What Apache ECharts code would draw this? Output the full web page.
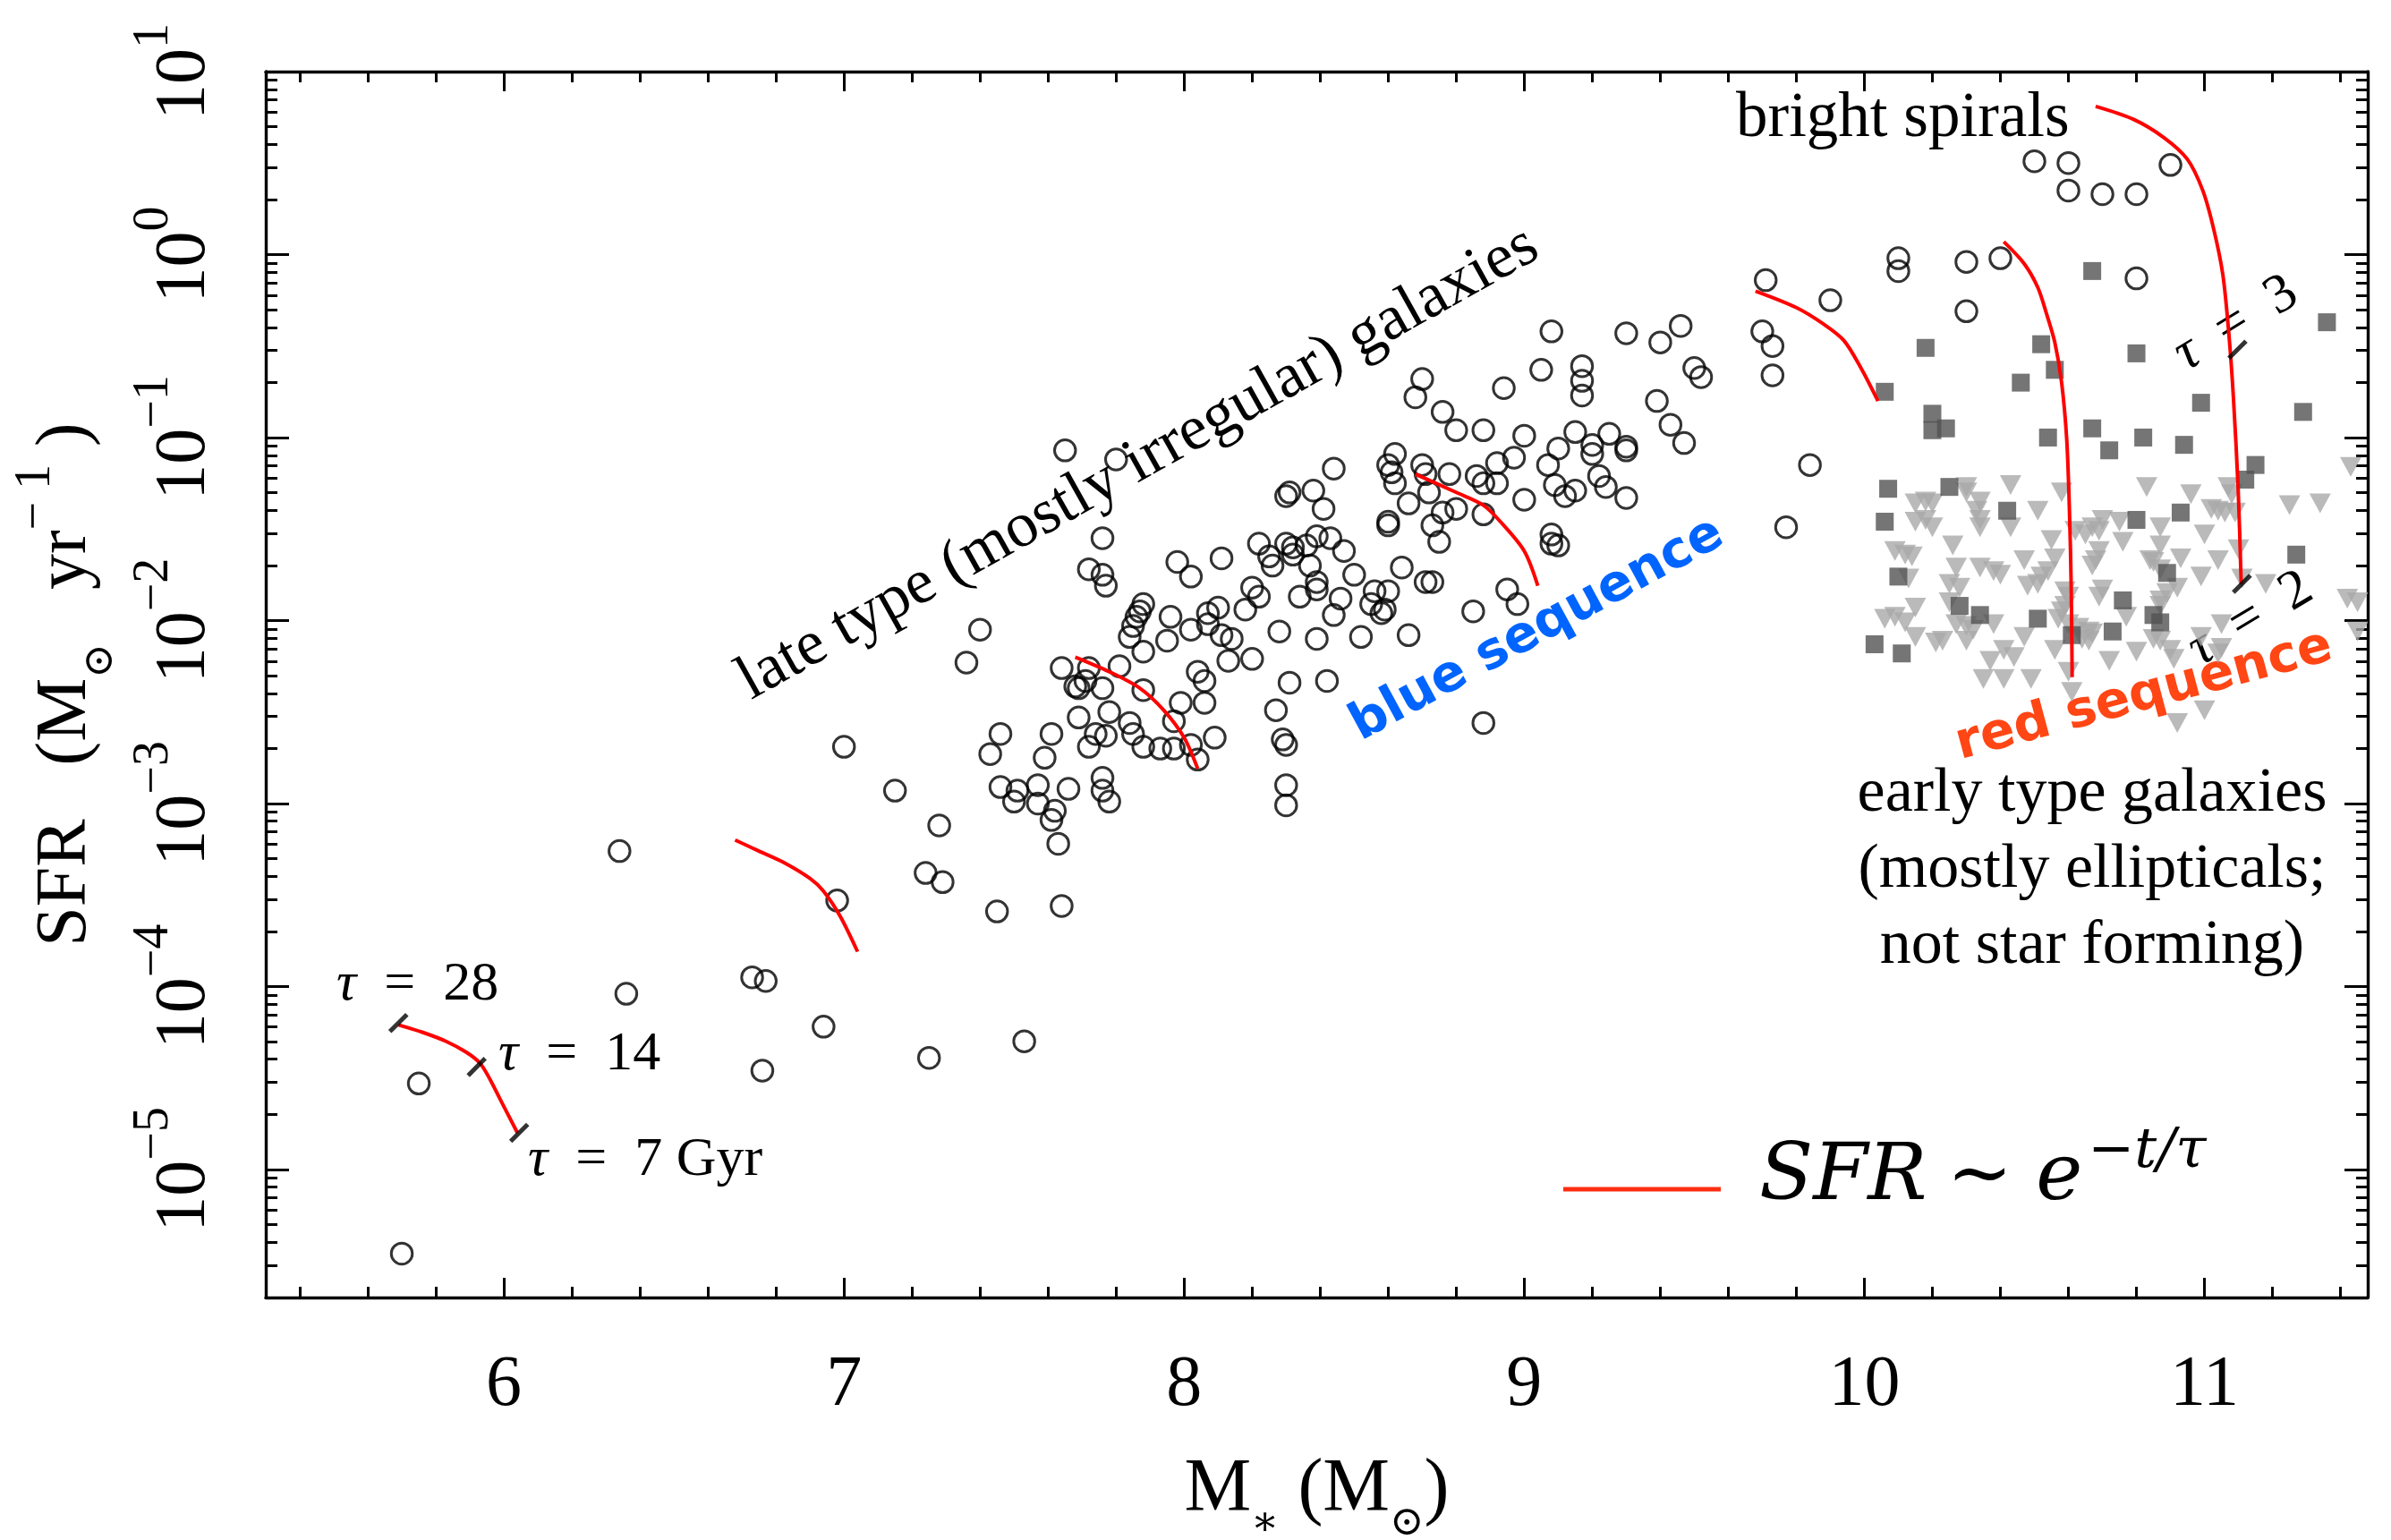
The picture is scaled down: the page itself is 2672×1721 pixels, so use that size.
<!DOCTYPE html>
<html><head><meta charset="utf-8">
<script src="https://cdn.jsdelivr.net/npm/echarts@6/dist/echarts.min.js"></script>
<style>html,body{margin:0;padding:0;background:#fff}#c{width:2672px;height:1721px}</style>
</head><body><div id="c"></div>
<script>
// ---------- axis ticks ----------
const xMajorTicks = [6, 7, 8, 9, 10, 11];
const xMinorTicks = [5.4,5.6,5.8,6.2,6.4,6.6,6.8,7.2,7.4,7.6,7.8,8.2,8.4,8.6,8.8,9.2,9.4,9.6,9.8,10.2,10.4,10.6,10.8,11.2,11.4];
const yMajorTicks = [-5, -4, -3, -2, -1, 0, 1];   // log10 SFR, labelled 10^n
const yMinorMantissas = [2, 3, 4, 5, 6, 7, 8, 9];
const xRange = [5.3, 11.48];
const yRange = [-5.7, 1];

// ---------- data: [log10 M*, log10 SFR] ----------
const lateTypeGalaxies = [
 [5.70,-5.46],[5.75,-4.53],[6.34,-3.26],[6.36,-4.04],[6.73,-3.95],[6.77,-3.97],[6.76,-4.46],[6.94,-4.22],
 [6.98,-3.53],[7.00,-2.69],[7.15,-2.93],[7.28,-3.12],[7.24,-3.38],[7.29,-3.43],[7.25,-4.39],[7.53,-4.30],
 [7.43,-2.73],[7.59,-2.75],[7.72,-2.69],[7.88,-2.69],[7.93,-2.70],[7.97,-2.70],[8.04,-2.76],[7.46,-2.91],
 [7.51,-2.93],[7.50,-2.99],[7.57,-2.90],[7.57,-3.00],[7.62,-3.04],[7.61,-3.09],[7.66,-2.92],[7.63,-3.22],
 [7.76,-2.86],[7.76,-2.93],[7.78,-2.99],[7.45,-3.59],[7.64,-3.56],[8.30,-2.90],[8.30,-3.01],
 [7.65,-1.07],[7.80,-1.12],[7.76,-1.55],[7.72,-1.72],[7.76,-1.75],[7.77,-1.81],[7.40,-2.05],[7.36,-2.23],
 [7.88,-1.91],[7.87,-1.95],[7.86,-1.98],[7.85,-2.03],[7.84,-2.09],[7.88,-2.17],[7.96,-1.98],[7.95,-2.11],
 [8.02,-2.05],[7.98,-1.68],[8.02,-1.76],[8.11,-1.66],[8.07,-1.96],[8.10,-1.93],[8.07,-2.02],[8.11,-2.08],
 [8.14,-2.10],[8.13,-2.22],[8.20,-2.21],[8.18,-1.94],[8.20,-1.82],[8.22,-1.87],[8.22,-1.58],[8.25,-1.65],
 [8.26,-1.70],[8.30,-1.58],[8.32,-1.60],[8.32,-1.64],[8.37,-1.70],[8.36,-1.59],[8.39,-1.54],[8.43,-1.55],
 [8.47,-1.62],[8.39,-1.79],[8.39,-1.83],[8.34,-1.87],[8.46,-1.88],[8.44,-1.97],[8.50,-1.75],[8.28,-2.06],
 [8.39,-2.10],[8.52,-2.09],[8.31,-2.34],[8.42,-2.33],[8.27,-2.49],[8.29,-2.65],[8.30,-2.68],[8.44,-1.17],
 [8.31,-1.30],[8.30,-1.32],[8.38,-1.29],[8.41,-1.39],[8.62,-1.09],[8.60,-1.15],[8.61,-1.19],[8.62,-1.25],
 [8.60,-1.46],[8.60,-1.48],[8.64,-1.71],[8.56,-1.84],[8.60,-1.84],[8.55,-1.91],[8.59,-1.94],[8.58,-1.96],
 [8.66,-1.36],[8.66,-2.08],
 [7.64,-2.26],[7.72,-2.26],[7.81,-2.25],[7.68,-2.36],[7.69,-2.37],[7.71,-2.33],[7.76,-2.37],[7.88,-2.38],
 [7.99,-2.45],[8.06,-2.45],[8.04,-2.28],[8.06,-2.33],[7.69,-2.53],[7.78,-2.50],[7.84,-2.56],[7.97,-2.55],
 [7.46,-2.62],[7.61,-2.62],[7.74,-2.62],[7.77,-2.63],[7.85,-2.62],[8.09,-2.64],[8.02,-2.68],
 [9.08,-0.42],[9.30,-0.43],[9.46,-0.39],[9.40,-0.48],[9.90,-0.25],[9.71,-0.14],[9.70,-0.42],[9.73,-0.50],
 [9.73,-0.66],[9.50,-0.62],[9.52,-0.67],[9.05,-0.63],[9.17,-0.61],[9.17,-0.69],[9.17,-0.77],[8.70,-0.68],
 [8.68,-0.78],[8.94,-0.73],[8.76,-0.86],[8.80,-0.96],[8.88,-0.96],[9.00,-0.99],[9.39,-0.80],[9.43,-0.93],
 [9.47,-1.03],[9.15,-0.97],[9.25,-0.98],[9.10,-1.06],[9.20,-1.04],[9.20,-1.09],[9.30,-1.05],[9.30,-1.07],
 [9.07,-1.15],[8.97,-1.11],[8.92,-1.14],[8.86,-1.21],[8.88,-1.25],[8.92,-1.25],[8.78,-1.20],[8.70,-1.15],
 [8.71,-1.20],[8.72,-1.30],[8.80,-1.39],[8.76,-1.41],[8.73,-1.48],[8.75,-1.57],[8.88,-1.42],[9.00,-1.34],
 [9.09,-1.26],[9.12,-1.32],[9.15,-1.29],[9.22,-1.21],[9.24,-1.27],[9.30,-1.33],[9.08,-1.53],[9.08,-1.58],
 [9.10,-1.59],[8.71,-1.79],[8.73,-1.79],[8.95,-1.83],[8.98,-1.91],[8.85,-1.95],[9.77,-1.49],[9.84,-1.15],
 [8.88,-2.56],
 [10.50,0.51],[10.60,0.50],[10.60,0.35],[10.70,0.33],[10.80,0.33],[10.90,0.49],[10.10,-0.02],[10.10,-0.09],
 [10.30,-0.04],[10.40,-0.02],[10.30,-0.31],[10.80,-0.13]
];
const earlyTypeSquares = [
 [10.67,-0.09],[10.18,-0.51],[10.52,-0.49],[10.80,-0.54],[11.36,-0.37],[10.06,-0.75],[10.46,-0.70],[10.56,-0.63],
 [10.20,-0.87],[10.20,-0.96],[10.24,-0.95],[10.54,-1.00],[10.67,-0.95],[10.72,-1.07],[10.82,-1.00],[10.94,-1.04],
 [10.99,-0.81],[11.29,-0.86],[11.15,-1.15],[11.12,-1.23],[10.07,-1.28],[10.25,-1.27],[10.06,-1.46],[10.42,-1.40],
 [10.80,-1.45],[10.93,-1.41],[11.27,-1.64],[10.10,-1.76],[10.89,-1.74],[10.28,-1.92],[10.34,-1.97],[10.51,-1.99],
 [10.76,-1.89],[10.85,-1.97],[10.87,-2.01],[10.61,-2.08],[10.73,-2.06],[10.03,-2.13],[10.11,-2.18]
];
const earlyTypeTriangles = [
 [10.30,-1.27],[10.30,-1.30],[10.43,-1.26],[10.58,-1.30],[10.83,-1.27],[10.96,-1.31],[11.07,-1.27],[11.08,-1.31],
 [11.25,-1.37],[11.34,-1.36],[10.15,-1.36],[10.18,-1.35],[10.20,-1.36],[10.34,-1.35],[10.33,-1.40],[10.51,-1.40],
 [11.02,-1.39],[11.04,-1.40],[11.06,-1.41],[11.09,-1.41],[10.15,-1.46],[10.18,-1.45],[10.20,-1.49],[10.34,-1.45],
 [10.34,-1.49],[10.43,-1.49],[10.70,-1.45],[10.75,-1.46],[10.62,-1.51],[10.65,-1.53],[10.67,-1.49],[10.69,-1.51],
 [10.87,-1.49],[11.00,-1.53],[10.55,-1.56],[10.76,-1.57],[10.26,-1.59],[10.87,-1.59],[11.10,-1.61],[10.09,-1.62],
 [10.12,-1.64],[10.14,-1.65],[10.47,-1.67],[10.56,-1.66],[10.69,-1.62],[10.68,-1.67],[10.84,-1.67],[10.85,-1.68],
 [10.93,-1.66],[11.04,-1.67],[10.27,-1.71],[10.34,-1.71],[10.38,-1.73],[10.40,-1.75],[10.54,-1.73],[10.52,-1.76],
 [10.67,-1.70],[10.13,-1.77],[10.87,-1.72],[10.99,-1.76],[11.11,-1.77],[11.18,-1.80],[10.25,-1.80],[10.28,-1.82],
 [10.48,-1.81],[10.51,-1.80],[10.59,-1.84],[10.60,-1.87],[10.70,-1.83],[10.69,-1.87],[10.92,-1.82],[10.89,-1.85],
 [10.15,-1.93],[10.25,-1.90],[10.59,-1.92],[10.58,-1.95],[10.87,-1.89],[10.87,-1.92],[10.77,-1.98],[10.06,-1.99],
 [10.09,-1.98],[10.12,-2.01],[10.27,-2.02],[10.30,-2.03],[10.32,-2.05],[10.38,-2.02],[10.57,-1.99],[10.60,-2.02],
 [11.05,-2.02],[10.63,-2.04],[10.66,-2.06],[10.67,-2.07],[10.15,-2.09],[10.21,-2.12],[10.23,-2.11],[10.30,-2.11],
 [10.47,-2.09],[10.85,-2.10],[10.87,-2.11],[10.64,-2.10],[10.66,-2.11],[10.99,-2.09],[11.05,-2.15],[10.41,-2.16],
 [10.44,-2.20],[10.56,-2.16],[10.80,-2.17],[10.90,-2.16],[10.91,-2.21],[10.37,-2.22],[10.72,-2.22],[11.04,-2.18],
 [10.35,-2.32],[10.41,-2.32],[10.49,-2.32],[10.60,-2.28],[10.61,-2.39],[11.00,-2.49],[10.92,-2.56],
 [11.43,-1.16],[11.42,-1.88],[11.45,-1.90],[11.45,-2.06]
];
// exponentially declining SFR tracks
const track1 = [[5.69,-4.21],[5.76,-4.25],[5.83,-4.30],[5.89,-4.36],[5.93,-4.42],[5.96,-4.51],[5.99,-4.62],[6.04,-4.80]];
const track2 = [[6.68,-3.20],[6.75,-3.26],[6.82,-3.32],[6.90,-3.41],[6.94,-3.48],[6.99,-3.62],[7.04,-3.81]];
const track3 = [[7.68,-2.20],[7.78,-2.28],[7.87,-2.37],[7.94,-2.49],[8.00,-2.64],[8.04,-2.81]];
const track4 = [[8.68,-1.20],[8.80,-1.30],[8.88,-1.37],[8.93,-1.46],[9.00,-1.62],[9.04,-1.81]];
const track5 = [[9.68,-0.20],[9.80,-0.29],[9.88,-0.38],[9.94,-0.47],[9.99,-0.62],[10.04,-0.80]];
const track6 = [[10.41,0.07],[10.47,-0.05],[10.51,-0.18],[10.535,-0.32],[10.56,-0.48],[10.58,-0.70],[10.595,-1.01],[10.603,-1.40],[10.608,-1.80],[10.611,-2.31]];
const track7 = [[10.68,0.81],[10.79,0.74],[10.88,0.64],[10.95,0.52],[10.995,0.35],[11.027,0.14],[11.054,-0.11],[11.072,-0.44],[11.085,-0.78],[11.099,-1.28],[11.108,-1.80]];
const tauMarks = [[5.69,-4.20],[5.92,-4.44],[6.045,-4.80],[11.097,-0.52],[11.11,-1.80]];

// ---------- chart ----------
const FONT = '"Liberation Serif","DejaVu Serif",serif';
const yMinorTicks = [];
for (let n = -6; n <= 0; n++) {
  yMinorMantissas.forEach(k => {
    const v = +(n + Math.log10(k)).toFixed(4);
    if (v >= yRange[0] && v <= yRange[1]) yMinorTicks.push(v);
  });
}
const toLine = arr => arr.map(p => [p[0], p[1]]);
const lineStyleAx = {color: '#000', width: 3.4};
const tickStyle = {color: '#000', width: 3};

function xAx(pos, ticks, len, major) {
  return {
    type: 'value', position: pos, min: xRange[0], max: xRange[1],
    axisLine: {show: major, onZero: false, lineStyle: lineStyleAx},
    axisTick: {show: true, inside: true, length: len, lineStyle: tickStyle, customValues: ticks},
    axisLabel: {show: false}, splitLine: {show: false}
  };
}
function yAx(pos, ticks, len, major) {
  return {
    type: 'value', position: pos, min: yRange[0], max: yRange[1],
    axisLine: {show: major, onZero: false, lineStyle: lineStyleAx},
    axisTick: {show: true, inside: true, length: len, lineStyle: tickStyle, customValues: ticks},
    axisLabel: {show: false}, splitLine: {show: false}
  };
}
const xMain = xAx('bottom', xMajorTicks, 22, true);
xMain.axisLabel = {show: true, customValues: xMajorTicks, fontFamily: FONT, fontSize: 80, color: '#000', margin: 59};
xMain.name = '{m|M}{s|∗}{m| (M}{s|⊙}{m|)}';
xMain.nameLocation = 'middle';
xMain.nameGap = 174;
xMain.nameTextStyle = {rich: {
  m: {fontFamily: FONT, fontSize: 84, color: '#000', lineHeight: 102, verticalAlign: 'top'},
  s: {fontFamily: '"DejaVu Serif",serif', fontSize: 46, color: '#000', lineHeight: 50, verticalAlign: 'bottom'}
}};
const yMain = yAx('left', yMajorTicks, 26, true);
yMain.axisLabel = {show: true, customValues: yMajorTicks, rotate: 90, margin: 50,
  formatter: v => '{b|10}{e|' + (v < 0 ? '\u2212' + (-v) : v) + '}',
  rich: {
    b: {fontFamily: FONT, fontSize: 80, color: '#000', lineHeight: 103, verticalAlign: 'bottom'},
    e: {fontFamily: FONT, fontSize: 56, color: '#000', lineHeight: 56, verticalAlign: 'top'}
  }};
yMain.name = '{t|SFR   (M}{s|⊙}{t|   yr}{e|\u2212 1}{t| )}';
yMain.nameLocation = 'middle';
yMain.nameRotate = 90;
yMain.nameGap = 157;
yMain.nameTextStyle = {rich: {
  t: {fontFamily: FONT, fontSize: 80, color: '#000', lineHeight: 124, verticalAlign: 'middle'},
  s: {fontFamily: '"DejaVu Serif",serif', fontSize: 46, color: '#000', lineHeight: 50, verticalAlign: 'bottom'},
  e: {fontFamily: FONT, fontSize: 56, color: '#000', lineHeight: 56, verticalAlign: 'top'}
}};

const trackSeries = [track1, track2, track3, track4, track5, track6, track7].map(t => ({
  type: 'line', name: 'SFR', data: toLine(t), showSymbol: false, smooth: 0.3,
  lineStyle: {color: '#ff0000', width: 4}, itemStyle: {color: '#ff0000'}, z: 5, silent: true
}));

const LEGFONT = '"DejaVu Serif","Liberation Serif",serif';
const option = {
  animation: false,
  backgroundColor: '#fff',
  grid: {left: 297, right: 26, top: 80, bottom: 271, containLabel: false, outerBoundsMode: 'none'},
  xAxis: [xMain, xAx('bottom', xMinorTicks, 12, false), xAx('top', xMajorTicks, 22, true), xAx('top', xMinorTicks, 12, false)],
  yAxis: [yMain, yAx('left', yMinorTicks, 13, false), yAx('right', yMajorTicks, 26, true), yAx('right', yMinorTicks, 13, false)],
  legend: {
    show: true, left: 1747, top: 1257, padding: 0, itemWidth: 176, itemHeight: 5, icon: 'rect', selectedMode: false,
    data: [{name: 'SFR', itemStyle: {color: '#ff2d12'}}],
    formatter: () => '{a|SFR}{t|\u223c}{a|e}{b|\u2212t/\u03c4}',
    textStyle: {padding: [0, 0, 40, 38], rich: {
      a: {fontFamily: LEGFONT, fontStyle: 'italic', fontSize: 88, color: '#000', lineHeight: 104, verticalAlign: 'bottom'},
      t: {fontFamily: LEGFONT, fontSize: 88, color: '#000', lineHeight: 104, verticalAlign: 'bottom', padding: [0, 26, 0, 22]},
      b: {fontFamily: LEGFONT, fontStyle: 'italic', fontSize: 62, color: '#000', lineHeight: 62, verticalAlign: 'top', padding: [0, 0, 0, 6]}
    }}
  },
  series: [
    {type: 'scatter', name: 'early (not star forming)', data: earlyTypeTriangles, symbol: 'triangle', symbolRotate: 180,
     symbolSize: [24, 22], itemStyle: {color: '#a9a9a9'}, z: 2, silent: true},
    {type: 'scatter', name: 'early', data: earlyTypeSquares, symbol: 'rect', symbolSize: 20,
     itemStyle: {color: '#525252'}, z: 3, silent: true},
    {type: 'scatter', name: 'late', data: lateTypeGalaxies, symbol: 'circle', symbolSize: 23.5,
     itemStyle: {color: 'rgba(0,0,0,0)', borderColor: '#000', borderWidth: 3}, z: 4, silent: true},
    ...trackSeries,
    {type: 'scatter', name: 'tau', data: tauMarks, symbol: 'rect', symbolSize: [27, 5], symbolRotate: 45,
     itemStyle: {color: '#000'}, z: 6, silent: true}
  ],
  graphic: {elements: [
    {type: 'text', x: 1272, y: 518, rotation: 29.3 * Math.PI / 180, silent: true,
     style: {text: 'late type (mostly irregular) galaxies', font: '71px ' + FONT, fill: '#000', textAlign: 'center', textVerticalAlign: 'middle', align: 'center', verticalAlign: 'middle'}},
    {type: 'text', x: 1718, y: 704, rotation: 28.5 * Math.PI / 180, silent: true,
     style: {text: 'blue sequence', font: 'bold 57px "DejaVu Sans",sans-serif', fill: '#0064ff', textAlign: 'center', textVerticalAlign: 'middle', align: 'center', verticalAlign: 'middle'}},
    {type: 'text', x: 2396, y: 778, rotation: 15 * Math.PI / 180, silent: true,
     style: {text: 'red sequence', font: 'bold 57px "DejaVu Sans",sans-serif', fill: '#ff4614', textAlign: 'center', textVerticalAlign: 'middle', align: 'center', verticalAlign: 'middle'}},
    {type: 'text', x: 1940, y: 133, silent: true,
     style: {text: 'bright spirals', font: '71px ' + FONT, fill: '#000', textAlign: 'left', textVerticalAlign: 'middle', align: 'left', verticalAlign: 'middle'}},
    {type: 'text', x: 2338, y: 845, silent: true,
     style: {text: 'early type galaxies\n(mostly ellipticals;\nnot star forming)', font: '70px ' + FONT, lineHeight: 85, fill: '#000', textAlign: 'center', textVerticalAlign: 'top', align: 'center', verticalAlign: 'top'}},
    {type: 'text', x: 376, y: 1101, silent: true,
     style: {text: '{i|\u03c4}  =  28', font: '62px ' + FONT, fill: '#000', textAlign: 'left', textVerticalAlign: 'middle', align: 'left', verticalAlign: 'middle', rich: {i: {fontStyle: 'italic', fontSize: 62, fontFamily: FONT}}}},
    {type: 'text', x: 557, y: 1179, silent: true,
     style: {text: '{i|\u03c4}  =  14', font: '62px ' + FONT, fill: '#000', textAlign: 'left', textVerticalAlign: 'middle', align: 'left', verticalAlign: 'middle', rich: {i: {fontStyle: 'italic', fontSize: 62, fontFamily: FONT}}}},
    {type: 'text', x: 590, y: 1297, silent: true,
     style: {text: '{i|\u03c4}  =  7 Gyr', font: '62px ' + FONT, fill: '#000', textAlign: 'left', textVerticalAlign: 'middle', align: 'left', verticalAlign: 'middle', rich: {i: {fontStyle: 'italic', fontSize: 62, fontFamily: FONT}}}},
    {type: 'text', x: 2499, y: 362, rotation: 31.5 * Math.PI / 180, silent: true,
     style: {text: '{i|\u03c4}  =  3', font: '62px ' + FONT, fill: '#000', textAlign: 'center', textVerticalAlign: 'middle', align: 'center', verticalAlign: 'middle', rich: {i: {fontStyle: 'italic', fontSize: 62, fontFamily: FONT}}}},
    {type: 'text', x: 2515, y: 692, rotation: 31 * Math.PI / 180, silent: true,
     style: {text: '{i|\u03c4}  =  2', font: '62px ' + FONT, fill: '#000', textAlign: 'center', textVerticalAlign: 'middle', align: 'center', verticalAlign: 'middle', rich: {i: {fontStyle: 'italic', fontSize: 62, fontFamily: FONT}}}}
  ]}
};
const chart = echarts.init(document.getElementById('c'), null, {renderer: 'canvas', width: 2672, height: 1721});
chart.setOption(option);
</script>
</body></html>
